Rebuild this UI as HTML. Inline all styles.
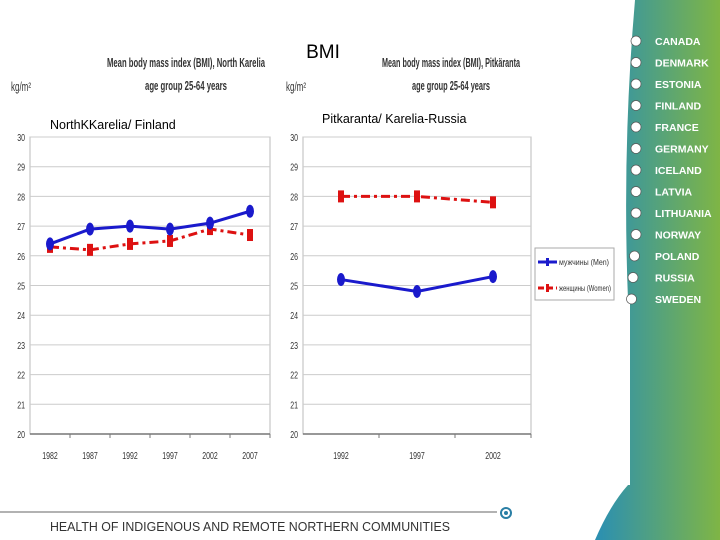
<!DOCTYPE html>
<html><head><meta charset="utf-8"><style>
body{margin:0;width:720px;height:540px;background:#fff;overflow:hidden;font-family:"Liberation Sans",sans-serif}
svg{position:absolute;left:0;top:0}
</style></head><body>
<svg id="s" width="720" height="540">
<defs><linearGradient id="g" x1="0" x2="1"><stop offset="0" stop-color="#2a8fb3"/><stop offset="1" stop-color="#7fb545"/></linearGradient></defs>
<path d="M635 0 L720 0 L720 540 L595 540 Q610 505 628 485 L628 300 Q622 150 635 0 Z" fill="url(#g)"/>
<rect x="560" y="300" width="70" height="185" fill="#fff"/>
<text x="323" y="58" font-size="19" text-anchor="middle">BMI</text>
<g font-weight="bold" font-size="13" fill="#333" text-anchor="middle">
<text x="186" y="67" textLength="158" lengthAdjust="spacingAndGlyphs">Mean body mass index (BMI), North Karelia</text>
<text x="186" y="90" textLength="82" lengthAdjust="spacingAndGlyphs">age group 25-64 years</text>
<text x="451" y="67" textLength="138" lengthAdjust="spacingAndGlyphs">Mean body mass index (BMI), Pitkäranta</text>
<text x="451" y="90" textLength="78" lengthAdjust="spacingAndGlyphs">age group 25-64 years</text>
<text x="21" y="91" font-weight="normal" textLength="20" lengthAdjust="spacingAndGlyphs">kg/m²</text>
<text x="296" y="91" font-weight="normal" textLength="20" lengthAdjust="spacingAndGlyphs">kg/m²</text>
</g>
<text x="50" y="129" font-size="12.5">NorthKKarelia/ Finland</text>
<text x="322" y="123" font-size="12.5">Pitkaranta/ Karelia-Russia</text>
<g id="charts"></g>
<g>
<rect x="535" y="248" width="79" height="52" fill="#fff" stroke="#aaa"/>
<line x1="538" y1="262" x2="557" y2="262" stroke="#1a1acc" stroke-width="3"/><rect x="546" y="258" width="3" height="8" fill="#1a1acc"/>
<text x="559" y="265" font-size="8" fill="#333" textLength="50" lengthAdjust="spacingAndGlyphs">мужчины (Men)</text>
<line x1="538" y1="288" x2="557" y2="288" stroke="#dd1111" stroke-width="3" stroke-dasharray="6,3"/><rect x="546" y="284" width="3" height="8" fill="#dd1111"/>
<text x="559" y="291" font-size="8" fill="#333" textLength="52" lengthAdjust="spacingAndGlyphs">женщины (Women)</text>
</g>
<g id="countries" font-weight="bold" font-size="10.5" fill="#fff"></g>
<line x1="0" y1="512" x2="497" y2="512" stroke="#999" stroke-width="1.5"/>
<circle cx="506" cy="513" r="5" fill="none" stroke="#2a7fa5" stroke-width="2"/><circle cx="506" cy="513" r="2" fill="#2a7fa5"/>
<text x="50" y="531" font-size="12.5" fill="#333" textLength="400" lengthAdjust="spacingAndGlyphs">HEALTH OF INDIGENOUS AND REMOTE NORTHERN COMMUNITIES</text>
</svg>
<script>
const yTicks=[20,21,22,23,24,25,26,27,28,29,30];
const leftYears=["1982","1987","1992","1997","2002","2007"];
const leftMen=[26.4,26.9,27.0,26.9,27.1,27.5];
const leftWomen=[26.3,26.2,26.4,26.5,26.9,26.7];
const rightYears=["1992","1997","2002"];
const rightMen=[25.2,24.8,25.3];
const rightWomen=[28.0,28.0,27.8];
const countries=["CANADA","DENMARK","ESTONIA","FINLAND","FRANCE","GERMANY","ICELAND","LATVIA","LITHUANIA","NORWAY","POLAND","RUSSIA","SWEDEN"];
const NS="http://www.w3.org/2000/svg";
const root=document.getElementById('charts');
function mk(t,a,p){const e=document.createElementNS(NS,t);for(const k in a)e.setAttribute(k,a[k]);(p||root).appendChild(e);return e;}
function chart(name,x0,x1,cats,men,women){
  const top=137,bot=434;
  const y=v=>bot-(v-20)/10*(bot-top);
  const step=(x1-x0)/cats.length;
  const x=i=>x0+step*(i+0.5);
  const g=mk('g',{});
  
  
  mk('rect',{x:x0,y:top,width:x1-x0,height:bot-top,fill:'#fff',stroke:'#bbb'},g);
  yTicks.forEach(t=>{
    const l=mk('line',{x1:x0,x2:x1,y1:y(t),y2:y(t),stroke:t===20?'#777':'#ccc','stroke-width':t===20?1.5:1},g);
    
    
    const tx=mk('text',{x:x0-5,y:y(t)+4,'font-size':10,'text-anchor':'end',fill:'#333',transform:`translate(${x0-5},${y(t)}) scale(0.7,1) translate(${-(x0-5)},${-y(t)})`},g);
    tx.textContent=t;
    
    
  });
  cats.forEach((c,i)=>{
    const tx=mk('text',{x:x(i),y:459,'font-size':10,'text-anchor':'middle',fill:'#333',transform:`translate(${x(i)},0) scale(0.7,1) translate(${-x(i)},0)`},g);
    tx.textContent=c;
    
    
    mk('line',{x1:x0+step*(i+1),x2:x0+step*(i+1),y1:bot,y2:bot+4,stroke:'#777'},g);
  });
  const wl=mk('polyline',{points:women.map((v,i)=>x(i)+','+y(v)).join(' '),fill:'none',stroke:'#dd1111','stroke-width':3,'stroke-dasharray':'9,4,3,4'},g);
  
  
  women.forEach((v,i)=>{const m=mk('rect',{x:x(i)-3,y:y(v)-6,width:6,height:12,fill:'#dd1111'},g);
    
    });
  const ml=mk('polyline',{points:men.map((v,i)=>x(i)+','+y(v)).join(' '),fill:'none',stroke:'#1a1acc','stroke-width':3},g);
  
  
  men.forEach((v,i)=>{const m=mk('ellipse',{cx:x(i),cy:y(v),rx:4,ry:6.5,fill:'#1a1acc'},g);
    
    });
}
chart('north-karelia-chart',30,270,leftYears,leftMen,leftWomen);
chart('pitkaranta-chart',303,531,rightYears,rightMen,rightWomen);
const cg=document.getElementById('countries');
countries.forEach((c,i)=>{
  const yy=41+i*21.5;
  const ci=mk('circle',{cx:636-(i>9?(i-9)*1.5:0),cy:yy,r:5,fill:'#fff',stroke:'#555','stroke-width':0.7},cg);
  
  
  const t=mk('text',{x:655,y:yy+4},cg);
  t.textContent=c;
  
  
});
</script>
</body></html>
